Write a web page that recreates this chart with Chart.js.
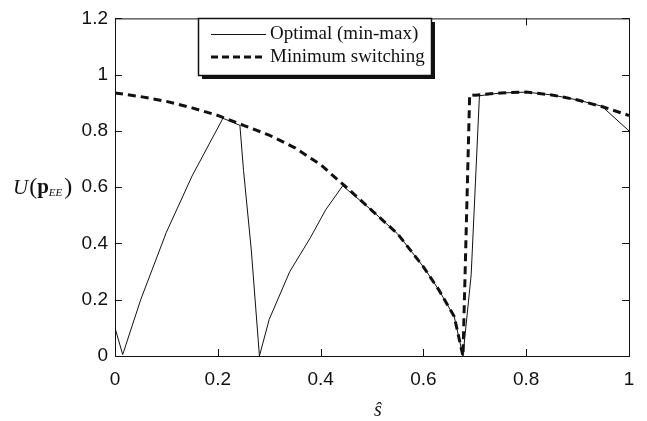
<!DOCTYPE html>
<html>
<head>
<meta charset="utf-8">
<script src="https://cdn.jsdelivr.net/npm/chart.js@4.4.1/dist/chart.umd.min.js"></script>
<style>
  html, body { margin: 0; padding: 0; background: #fff; }
  #wrap { width: 647px; height: 421px; }
</style>
</head>
<body>
<div id="wrap"><canvas id="chart" width="647" height="421"></canvas></div>
<script>
// data
const optX = [0, 0.015, 0.05, 0.1, 0.15, 0.21, 0.243, 0.25, 0.265, 0.281, 0.3, 0.34, 0.38, 0.41, 0.443, 0.5, 0.55, 0.6, 0.63, 0.66, 0.677, 0.693, 0.709, 0.75, 0.8, 0.85, 0.9, 0.947, 1.0];
const optY = [0.1, 0.005, 0.2, 0.44, 0.64, 0.845, 0.82, 0.66, 0.38, 0, 0.13, 0.3, 0.42, 0.52, 0.605, 0.517, 0.434, 0.317, 0.235, 0.14, 0, 0.29, 0.925, 0.935, 0.938, 0.928, 0.91, 0.888, 0.80];

const msX = [0, 0.05, 0.1, 0.15, 0.2, 0.25, 0.3, 0.35, 0.4, 0.45, 0.5, 0.55, 0.6, 0.63, 0.66, 0.677, 0.69, 0.7, 0.75, 0.8, 0.85, 0.9, 0.95, 1.0];
const msY = [0.935, 0.922, 0.905, 0.882, 0.855, 0.82, 0.785, 0.74, 0.68, 0.6, 0.517, 0.434, 0.317, 0.235, 0.14, 0, 0.928, 0.927, 0.935, 0.938, 0.928, 0.91, 0.885, 0.855];

const xTicks = [0, 0.2, 0.4, 0.6, 0.8, 1];
const yTicks = [0, 0.2, 0.4, 0.6, 0.8, 1, 1.2];

const seriesNames = ['Optimal (min-max)', 'Minimum switching'];

const toPts = (xs, ys) => xs.map((x, i) => ({ x: x, y: ys[i] }));

// frame + inward ticks on all four sides, legend box, axis titles
const decor = {
  id: 'decor',
  afterDatasetsDraw(chart) {
    const { ctx, chartArea: a, scales } = chart;
    const xs = scales.x, ys = scales.y;
    ctx.save();
    ctx.strokeStyle = '#111';
    ctx.lineWidth = 1;
    ctx.strokeRect(a.left + 0.5, a.top + 0.5, a.right - a.left, a.bottom - a.top);

    const tl = 7;
    ctx.beginPath();
    xTicks.forEach(v => {
      const px = Math.round(xs.getPixelForValue(v)) + 0.5;
      ctx.moveTo(px, a.bottom); ctx.lineTo(px, a.bottom - tl);
      ctx.moveTo(px, a.top); ctx.lineTo(px, a.top + tl);
    });
    yTicks.forEach(v => {
      const py = Math.round(ys.getPixelForValue(v)) + 0.5;
      ctx.moveTo(a.left, py); ctx.lineTo(a.left + tl, py);
      ctx.moveTo(a.right, py); ctx.lineTo(a.right - tl, py);
    });
    ctx.stroke();

    // legend
    const bx = 198, by = 18, bw = 233, bh = 57;
    ctx.fillStyle = '#111';
    ctx.fillRect(bx + 4, by + 4, bw, bh);
    ctx.fillStyle = '#fff';
    ctx.fillRect(bx, by, bw, bh);
    ctx.strokeStyle = '#111';
    ctx.lineWidth = 1.5;
    ctx.strokeRect(bx + 0.5, by + 0.5, bw, bh);

    const rows = [by + 16, by + 39];
    ctx.lineWidth = 1;
    ctx.setLineDash([]);
    ctx.beginPath();
    ctx.moveTo(211, rows[0] + 0.5); ctx.lineTo(266, rows[0] + 0.5);
    ctx.stroke();
    ctx.lineWidth = 3;
    ctx.setLineDash([7, 4]);
    ctx.beginPath();
    ctx.moveTo(211, rows[1]); ctx.lineTo(266, rows[1]);
    ctx.stroke();
    ctx.setLineDash([]);

    ctx.fillStyle = '#111';
    ctx.font = '19px "Liberation Serif", serif';
    ctx.textBaseline = 'middle';
    ctx.textAlign = 'left';
    ctx.fillText(seriesNames[0], 270, rows[0]);
    ctx.fillText(seriesNames[1], 270, rows[1]);

    // y title: U(p_EE)
    let x = 13;
    const yc = Math.round(ys.getPixelForValue(0.6)) + 1;
    ctx.font = 'italic 21px "Liberation Serif", serif';
    ctx.fillText('U', x, yc);
    x += ctx.measureText('U').width + 1;
    ctx.font = '24px "Liberation Serif", serif';
    ctx.fillText('(', x, yc);
    x += ctx.measureText('(').width;
    ctx.font = 'bold 21px "Liberation Serif", serif';
    ctx.fillText('p', x, yc);
    x += ctx.measureText('p').width;
    ctx.font = 'italic 11px "Liberation Serif", serif';
    ctx.fillText('EE', x, yc + 5);
    x += ctx.measureText('EE').width + 2;
    ctx.font = '24px "Liberation Serif", serif';
    ctx.fillText(')', x, yc);

    // x title: s hat
    ctx.font = 'italic 20px "Liberation Serif", serif';
    ctx.textAlign = 'center';
    ctx.fillText('\u015D', 378, 411);
    ctx.restore();
  }
};

const tickFont = { family: '"Liberation Sans", Arial, sans-serif', size: 19 };

new Chart(document.getElementById('chart'), {
  type: 'scatter',
  data: {
    datasets: [
      {
        label: seriesNames[0],
        data: toPts(optX, optY),
        showLine: true,
        borderColor: '#111',
        borderWidth: 1,
        pointRadius: 0,
        tension: 0
      },
      {
        label: seriesNames[1],
        data: toPts(msX, msY),
        showLine: true,
        borderColor: '#111',
        borderWidth: 3,
        borderDash: [8, 5],
        pointRadius: 0,
        tension: 0
      }
    ]
  },
  options: {
    responsive: false,
    animation: false,
    layout: { padding: { left: 0, right: 18, top: 15, bottom: 0 } },
    plugins: {
      legend: { display: false },
      tooltip: { enabled: false }
    },
    scales: {
      x: {
        type: 'linear',
        min: 0, max: 1,
        afterFit: s => { s.height = 65; },
        afterBuildTicks: s => { s.ticks = xTicks.map(v => ({ value: v })); },
        grid: { display: false, drawTicks: false },
        border: { display: false },
        ticks: { color: '#111', font: tickFont, padding: 12, maxRotation: 0, callback: v => String(+v.toFixed(1)) }
      },
      y: {
        type: 'linear',
        min: 0, max: 1.2,
        afterFit: s => { s.width = 115; },
        afterBuildTicks: s => { s.ticks = yTicks.map(v => ({ value: v })); },
        grid: { display: false, drawTicks: false },
        border: { display: false },
        ticks: { color: '#111', font: tickFont, padding: 7, callback: v => String(+v.toFixed(1)) }
      }
    }
  },
  plugins: [decor]
});
</script>
</body>
</html>
